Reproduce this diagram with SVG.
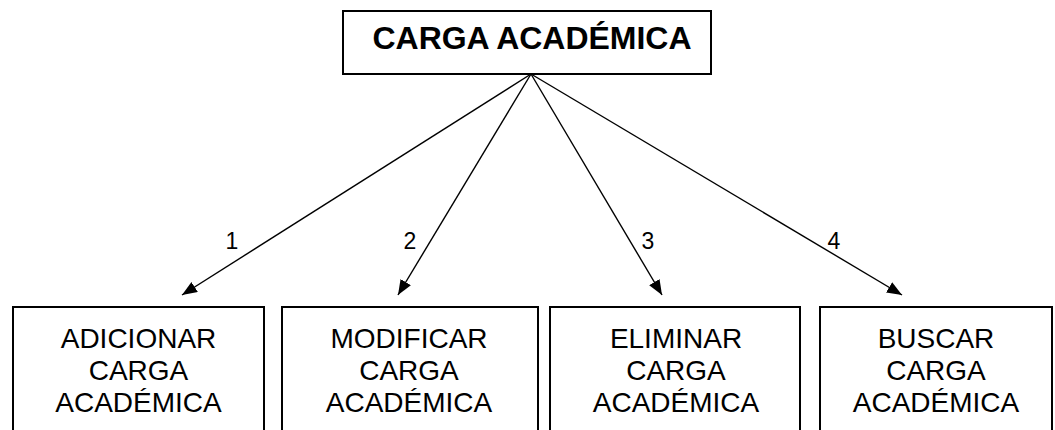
<svg xmlns="http://www.w3.org/2000/svg" width="1055" height="430" viewBox="0 0 1055 430">
  <defs>
    <style>
      .box { fill: #ffffff; stroke: #000000; stroke-width: 2; }
      .title { font-family: "Liberation Sans", Arial, sans-serif; font-weight: bold; font-size: 31px; fill: #000; text-anchor: middle; }
      .lbl { font-family: "Liberation Sans", Arial, sans-serif; font-size: 28px; fill: #000; text-anchor: middle; }
      .num { font-family: "Liberation Sans", Arial, sans-serif; font-size: 23px; fill: #000; text-anchor: middle; }
      .conn { stroke: #000; stroke-width: 1.4; fill: none; marker-end: url(#arrow); }
    </style>
    <marker id="arrow" markerUnits="userSpaceOnUse" markerWidth="16" markerHeight="13" refX="15" refY="6" orient="auto">
      <path d="M0,0 L15,6 L0,12 Z" fill="#000"/>
    </marker>
  </defs>
  <rect width="1055" height="430" fill="#ffffff"/>

  <g id="connectors">
    <line class="conn" x1="531" y1="74" x2="182" y2="295"/>
    <line class="conn" x1="531" y1="74" x2="398" y2="295"/>
    <line class="conn" x1="531" y1="74" x2="662" y2="295"/>
    <line class="conn" x1="531" y1="74" x2="902" y2="295"/>
    <text class="num" x="232" y="249">1</text>
    <text class="num" x="410" y="249">2</text>
    <text class="num" x="648" y="249">3</text>
    <text class="num" x="834" y="249">4</text>
  </g>

  <g id="node-carga">
    <rect class="box" x="343" y="11" width="368" height="63"/>
    <text class="title" x="532" y="49" textLength="319" lengthAdjust="spacingAndGlyphs">CARGA ACADÉMICA</text>
  </g>

  <g id="node-adicionar">
    <rect class="box" x="13" y="307" width="251" height="140"/>
    <text class="lbl" x="138.5" y="348">ADICIONAR</text>
    <text class="lbl" x="138.5" y="380">CARGA</text>
    <text class="lbl" x="138.5" y="412">ACADÉMICA</text>
  </g>

  <g id="node-modificar">
    <rect class="box" x="282" y="307" width="256" height="140"/>
    <text class="lbl" x="409" y="348">MODIFICAR</text>
    <text class="lbl" x="409" y="380">CARGA</text>
    <text class="lbl" x="409" y="412">ACADÉMICA</text>
  </g>

  <g id="node-eliminar">
    <rect class="box" x="550" y="307" width="250" height="140"/>
    <text class="lbl" x="676" y="348">ELIMINAR</text>
    <text class="lbl" x="676" y="380">CARGA</text>
    <text class="lbl" x="676" y="412">ACADÉMICA</text>
  </g>

  <g id="node-buscar">
    <rect class="box" x="820" y="307" width="232" height="140"/>
    <text class="lbl" x="936" y="348">BUSCAR</text>
    <text class="lbl" x="936" y="380">CARGA</text>
    <text class="lbl" x="936" y="412">ACADÉMICA</text>
  </g>
</svg>
